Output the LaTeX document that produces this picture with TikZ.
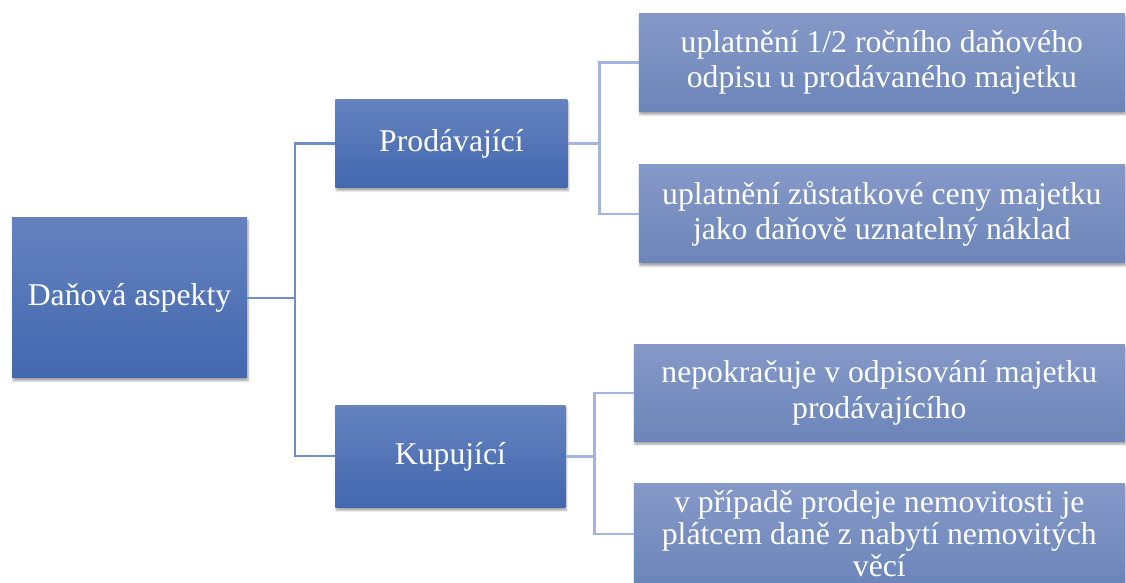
\documentclass[tikz,border=0pt]{standalone}
\usepackage{fontspec}
\setmainfont{Liberation Serif}
\usetikzlibrary{positioning,shadows.blur}
\definecolor{darkblue}{HTML}{4268AF}
\definecolor{midblue}{HTML}{6582BF}
\definecolor{leaftop}{HTML}{8599C8}
\definecolor{leafbot}{HTML}{6C85B9}
\definecolor{lineone}{HTML}{6F8CCC}
\definecolor{linetwo}{HTML}{A3B4E0}
\tikzset{
  sidebox/.style={rectangle, inner sep=0pt, align=center, text=white,
    top color=midblue, bottom color=darkblue,
    font=\fontsize{31.7pt}{35.5pt}\selectfont,
    blur shadow={shadow xshift=1pt, shadow yshift=-3pt, shadow opacity=35, shadow blur steps=6}},
  leafbox/.style={sidebox, top color=leaftop, bottom color=leafbot},
  linkone/.style={draw=lineone, line width=2.2pt},
  linktwo/.style={draw=linetwo, line width=2.5pt}
}

\begin{document}
\begin{tikzpicture}[x=1pt,y=1pt]
\useasboundingbox (0,0) rectangle (1126,583);
\clip (0,0) rectangle (1126,583);
\node[sidebox, minimum width=235pt, minimum height=160pt] (root) at (129.5,285) {Daňová aspekty};
\node[sidebox, minimum width=232pt, minimum height=88pt, above right=30pt and 88pt of root] (prod) {Prodávající};
\node[sidebox, minimum width=230pt, minimum height=102pt, below right=27pt and 88pt of root] (kup) {Kupující};
\node[leafbox, minimum width=486pt, minimum height=98pt, right=71pt of prod, yshift=81pt] (odpis) {uplatnění 1/2 ročního daňového\\odpisu u prodávaného majetku};
\node[leafbox, minimum width=486pt, minimum height=98pt, below=53pt of odpis] (cena) {uplatnění zůstatkové ceny majetku\\jako daňově uznatelný náklad};
\node[leafbox, minimum width=491pt, minimum height=97pt, right=68pt of kup, yshift=63.5pt] (nepokr) {nepokračuje v odpisování majetku\\prodávajícího};
\node[leafbox, minimum width=491pt, minimum height=100pt, below=42pt of nepokr,
  font=\fontsize{31.7pt}{32pt}\selectfont] (dan) {v případě prodeje nemovitosti je\\plátcem daně z nabytí nemovitých\\věcí};
\draw[linkone] (root.east) -- ++(48,0) coordinate (jroot) |- (prod.west);
\draw[linkone] (jroot) |- (kup.west);
\draw[linktwo] (prod.east) -- ++(32,0) coordinate (jprod) |- (odpis.west);
\draw[linktwo] (jprod) |- (cena.west);
\draw[linktwo] (kup.east) -- ++(29,0) coordinate (jkup) |- (nepokr.west);
\draw[linktwo] (jkup) |- (dan.west);
\end{tikzpicture}
\end{document}
